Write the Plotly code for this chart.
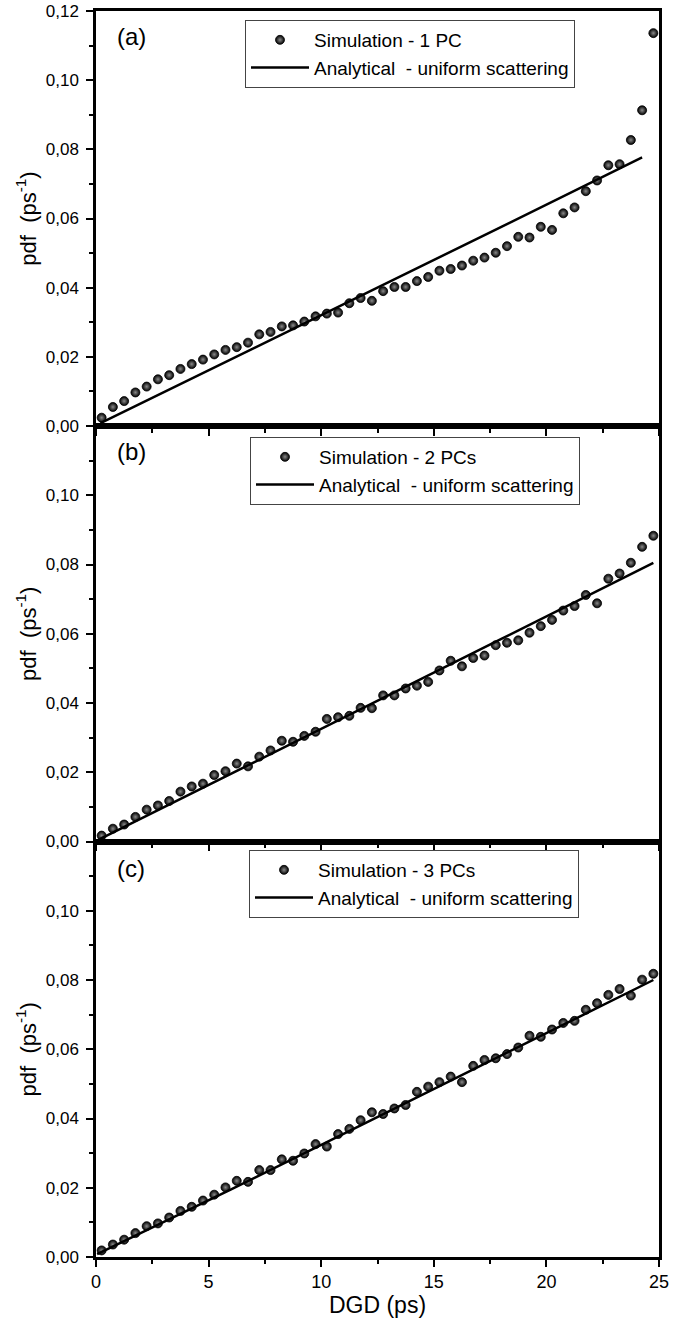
import plotly.graph_objects as go
from plotly.subplots import make_subplots

# DGD sample positions (ps)
dgd = [0.25, 0.75, 1.25, 1.75, 2.25, 2.75, 3.25, 3.75, 4.25, 4.75,
       5.25, 5.75, 6.25, 6.75, 7.25, 7.75, 8.25, 8.75, 9.25, 9.75,
       10.25, 10.75, 11.25, 11.75, 12.25, 12.75, 13.25, 13.75, 14.25, 14.75,
       15.25, 15.75, 16.25, 16.75, 17.25, 17.75, 18.25, 18.75, 19.25, 19.75,
       20.25, 20.75, 21.25, 21.75, 22.25, 22.75, 23.25, 23.75, 24.25, 24.75]

sim_1pc = [0.0024, 0.0055, 0.0072, 0.0097, 0.0114, 0.0135, 0.0147, 0.0165, 0.0179, 0.0192,
           0.0207, 0.0220, 0.0228, 0.0241, 0.0265, 0.0272, 0.0288, 0.0291, 0.0302, 0.0317,
           0.0325, 0.0328, 0.0355, 0.0370, 0.0362, 0.0390, 0.0402, 0.0402, 0.0419, 0.0431,
           0.0449, 0.0454, 0.0464, 0.0478, 0.0487, 0.0501, 0.0520, 0.0547, 0.0545, 0.0576,
           0.0567, 0.0615, 0.0632, 0.0679, 0.0710, 0.0754, 0.0757, 0.0827, 0.0913, 0.1136]

sim_2pc = [0.0017, 0.0037, 0.0049, 0.0071, 0.0092, 0.0104, 0.0117, 0.0144, 0.0159, 0.0167,
           0.0192, 0.0203, 0.0225, 0.0217, 0.0245, 0.0263, 0.0291, 0.0288, 0.0305, 0.0317,
           0.0354, 0.0359, 0.0363, 0.0386, 0.0385, 0.0422, 0.0422, 0.0442, 0.0450, 0.0461,
           0.0494, 0.0522, 0.0506, 0.0530, 0.0537, 0.0567, 0.0574, 0.0581, 0.0603, 0.0622,
           0.0640, 0.0667, 0.0680, 0.0712, 0.0688, 0.0759, 0.0774, 0.0805, 0.0851, 0.0883]

sim_3pc = [0.0019, 0.0036, 0.0050, 0.0069, 0.0089, 0.0097, 0.0114, 0.0133, 0.0145, 0.0163,
           0.0180, 0.0201, 0.0220, 0.0217, 0.0251, 0.0251, 0.0282, 0.0278, 0.0299, 0.0326,
           0.0319, 0.0355, 0.0370, 0.0395, 0.0418, 0.0413, 0.0429, 0.0439, 0.0477, 0.0492,
           0.0505, 0.0521, 0.0505, 0.0552, 0.0569, 0.0574, 0.0586, 0.0605, 0.0639, 0.0636,
           0.0657, 0.0676, 0.0682, 0.0714, 0.0733, 0.0757, 0.0774, 0.0755, 0.0801, 0.0818]

# Analytical (uniform scattering) curves, read at a few DGD values
ana_x_a = [0.2, 6.0, 12.0, 18.0, 24.25]
ana_y_a = [0.0008, 0.0192, 0.0384, 0.0576, 0.0777]
ana_x_b = [0.1, 6.0, 12.0, 18.0, 24.75]
ana_y_b = [0.0005, 0.0195, 0.0390, 0.0585, 0.0805]
ana_x_c = [0.05, 6.0, 12.0, 18.0, 24.75]
ana_y_c = [0.0008, 0.0195, 0.0388, 0.0582, 0.0800]

sim_names = ["Simulation - 1 PC", "Simulation - 2 PCs", "Simulation - 3 PCs"]
ana_name = "Analytical  - uniform scattering"
panel_labels = ["(a)", "(b)", "(c)"]
y_ticks = [0.0, 0.02, 0.04, 0.06, 0.08, 0.10, 0.12]

W, H = 684, 1325
L, R, T, B = 96, 25, 11, 68
PW, PH = W - L - R, H - T - B

def px_x(p):
    return (p - L) / PW

def px_y(p):
    return (H - B - p) / PH

fig = make_subplots(rows=3, cols=1, shared_xaxes=True, vertical_spacing=0)

sims = [sim_1pc, sim_2pc, sim_3pc]
anas = [(ana_x_a, ana_y_a), (ana_x_b, ana_y_b), (ana_x_c, ana_y_c)]
legend_ids = ["legend", "legend2", "legend3"]

for i in range(3):
    fig.add_trace(go.Scatter(
        x=dgd, y=sims[i], mode="markers", name=sim_names[i],
        legend=legend_ids[i],
        marker=dict(color="black", size=9, symbol="circle",
                    line=dict(color="black", width=0.8),
                    gradient=dict(type="radial", color="#8a8a8a")),
    ), row=i + 1, col=1)
    fig.add_trace(go.Scatter(
        x=anas[i][0], y=anas[i][1], mode="lines", name=ana_name,
        legend=legend_ids[i],
        line=dict(color="black", width=2.5),
    ), row=i + 1, col=1)

font_family = "Arial, Liberation Sans, sans-serif"

for i in range(3):
    tv = y_ticks if i == 0 else y_ticks[:-1]
    fig.update_yaxes(
        range=[0, 0.12], tickvals=tv, tickformat=".2f",
        ticks="outside", ticklen=7, tickwidth=2, tickcolor="black",
        ticklabelstandoff=4, ticklabeloverflow="allow",
        minor=dict(dtick=0.01, ticks="outside", ticklen=4, tickwidth=2, tickcolor="black", showgrid=False),
        showline=True, linewidth=2.5, linecolor="black", mirror=True,
        showgrid=False, zeroline=False, automargin=False,
        tickfont=dict(size=17, color="black", family=font_family),
        title=dict(text="pdf  (ps<sup>-1</sup>)", font=dict(size=22, color="black", family=font_family), standoff=4),
        row=i + 1, col=1)
    fig.update_xaxes(
        range=[0, 25], tickvals=[0, 5, 10, 15, 20, 25],
        ticks="outside", ticklen=7, tickwidth=2, tickcolor="black",
        ticklabeloverflow="allow",
        minor=dict(dtick=2.5, ticks="outside", ticklen=4, tickwidth=2, tickcolor="black", showgrid=False),
        showline=True, linewidth=2.5, linecolor="black", mirror=True,
        showgrid=False, zeroline=False, automargin=False,
        tickfont=dict(size=18, color="black", family=font_family),
        row=i + 1, col=1)

fig.update_xaxes(title=dict(text="DGD (ps)", font=dict(size=23, color="black", family=font_family), standoff=3),
                 row=3, col=1)

# subplot domains (pixel-accurate)
tops = [11, 426, 841.5]
bots = [426, 841.5, 1257]
for i, key in enumerate(["yaxis", "yaxis2", "yaxis3"]):
    fig.layout[key].domain = [max(0, px_y(bots[i])), min(1, px_y(tops[i]))]

leg_common = dict(bgcolor="white", bordercolor="#444444", borderwidth=1,
                  font=dict(size=19, color="black", family=font_family),
                  xanchor="left", yanchor="top", itemwidth=58,
                  tracegroupgap=0)
fig.update_layout(
    legend=dict(x=px_x(245), y=px_y(20), **leg_common),
    legend2=dict(x=px_x(250), y=px_y(437), **leg_common),
    legend3=dict(x=px_x(249), y=px_y(850), **leg_common),
)

for i, lab in enumerate(panel_labels):
    ycen = [37, 451, 868][i]
    fig.add_annotation(text=lab, xref="paper", yref="paper", x=px_x(115), y=px_y(ycen),
                       xanchor="left", yanchor="middle", showarrow=False,
                       font=dict(size=24, color="black", family=font_family))

fig.update_layout(
    width=W, height=H,
    margin=dict(l=L, r=R, t=T, b=B, autoexpand=False),
    paper_bgcolor="white", plot_bgcolor="white",
    separators=",.",
    showlegend=True,
    font=dict(family=font_family, color="black"),
)

fig.write_html("out.html",
               config={"displayModeBar": False},
               post_script="document.body.style.margin='0';document.body.style.padding='0';document.body.style.overflow='hidden';")
